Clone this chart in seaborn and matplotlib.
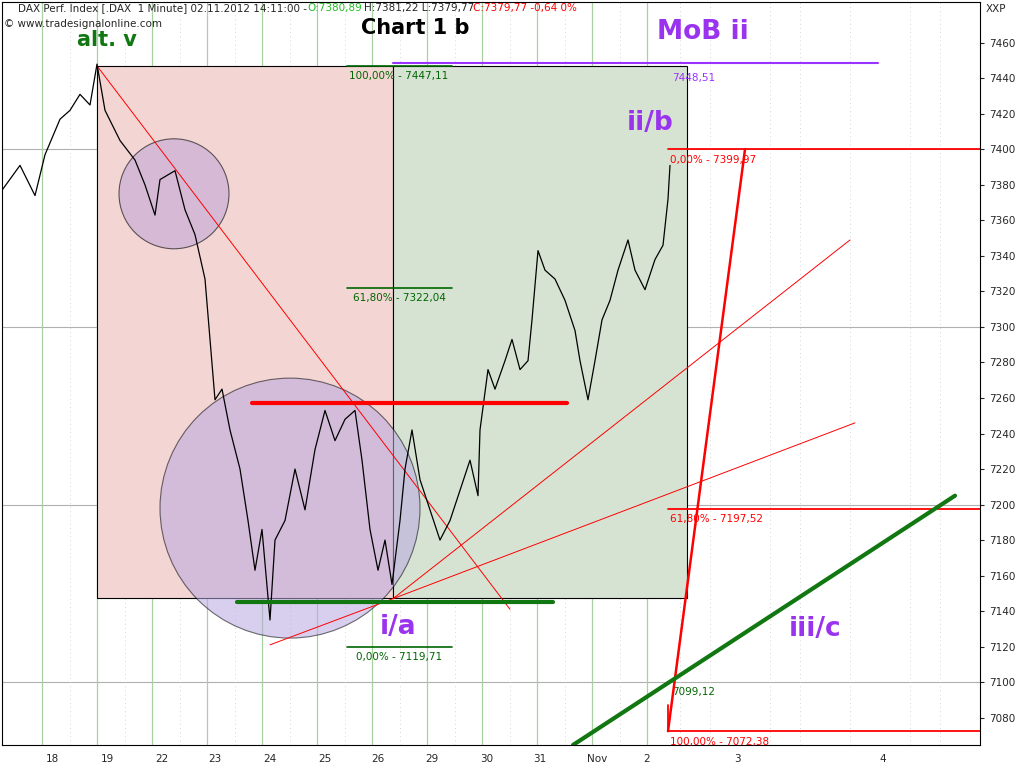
import matplotlib
matplotlib.use("Agg")
import matplotlib.pyplot as plt
from matplotlib.patches import Rectangle, Ellipse
import seaborn as sns

sns.set_style("white")
plt.rcParams["font.family"] = ["DejaVu Sans"]

# price path (x position on the time axis, index value)
px = [2, 20, 35, 45, 60, 70, 80, 90, 97, 105, 120, 135, 145, 155, 160, 175, 185, 195, 205,
      210, 215, 222, 230, 240, 248, 255, 262, 270, 275, 285, 295, 305, 315, 325, 335, 345,
      355, 362, 370, 378, 385, 392, 400, 405, 412, 420, 430, 440, 450, 460, 470, 478, 480,
      488, 495, 505, 512, 520, 528, 532, 538, 545, 555, 565, 575, 580, 588, 595, 602, 610,
      618, 628, 635, 645, 655, 663, 668, 670]
price = [7377, 7391, 7374, 7397, 7417, 7422, 7431, 7425, 7448, 7422, 7405, 7394, 7380, 7363,
         7383, 7388, 7366, 7352, 7327, 7293, 7259, 7265, 7242, 7220, 7191, 7163, 7186, 7135,
         7180, 7191, 7220, 7197, 7231, 7253, 7236, 7248, 7253, 7225, 7186, 7163, 7180, 7155,
         7191, 7220, 7242, 7214, 7197, 7180, 7191, 7208, 7225, 7205, 7242, 7276, 7265, 7281,
         7293, 7276, 7281, 7304, 7343, 7332, 7327, 7315, 7298, 7281, 7259, 7281, 7304, 7315,
         7332, 7349, 7332, 7321, 7338, 7346, 7372, 7391]

day_pos = [52, 107, 162, 215, 270, 325, 378, 432, 487, 540, 597, 647, 737, 883]
day_labels = ["18", "19", "22", "23", "24", "25", "26", "29", "30", "31", "Nov", "2", "3", "4"]
day_bounds = [42, 97, 152, 207, 262, 317, 372, 427, 482, 537, 592, 647]
intra = [70, 125, 180, 235, 290, 345, 400, 455, 510, 565, 620, 680, 710, 770, 800, 850, 910, 940]

fib_green = [7447.11, 7322.04, 7119.71]
fib_green_lbl = ["100,00% - 7447,11", "61,80% - 7322,04", "0,00% - 7119,71"]
fib_red = [7399.97, 7197.52, 7072.38]
fib_red_lbl = ["0,00% - 7399,97", "61,80% - 7197,52", "100,00% - 7072,38"]

fig = plt.figure(figsize=(10.24, 7.68), dpi=100)
ax = fig.add_axes([2 / 1024, 23 / 768, 978 / 1024, 743 / 768])
ax.set_xlim(2, 980)
ax.set_ylim(7064.6, 7483)


def fy(py):
    # pixel row -> figure fraction
    return 1 - py / 768


# grid
for v in [7100, 7200, 7300, 7400]:
    ax.axhline(v, color="#b0b0b0", lw=0.8, zorder=0)
for x in day_bounds:
    ax.axvline(x, color="#a8d0a0", lw=0.9, zorder=0)
for x in intra:
    ax.axvline(x, color="#c8c8c8", lw=0.6, ls=(0, (1, 4)), zorder=0)

# boxes
ax.add_patch(Rectangle((97, 7147.5), 296, 299.6, facecolor="#f3d6d3", edgecolor="black", lw=0.8, zorder=1))
ax.add_patch(Rectangle((393, 7147.5), 294, 299.6, facecolor="#d6e3d3", edgecolor="black", lw=0.8, zorder=1))

# circles
ax.add_patch(Ellipse((174, 7375), 110, 110 / 1.776, facecolor="#c4a8d8", alpha=0.6, edgecolor="black", lw=0.8, zorder=2))
ax.add_patch(Ellipse((290, 7198), 260, 260 / 1.776, facecolor="#b8a8e0", alpha=0.55, edgecolor="black", lw=0.8, zorder=2))

# price line
sns.lineplot(x=px, y=price, color="black", lw=0.9, ax=ax, zorder=4, sort=False)

# thin red trend lines
ax.plot([97, 510], [7447, 7141], color="red", lw=0.7, zorder=3)
ax.plot([270, 393], [7121, 7147], color="red", lw=0.7, zorder=3)
ax.plot([393, 850], [7147, 7349], color="red", lw=0.7, zorder=3)
ax.plot([393, 855], [7147, 7246], color="red", lw=0.7, zorder=3)

# thick levels
ax.plot([252, 567], [7257, 7257], color="red", lw=3, zorder=5)
ax.plot([237, 553], [7145, 7145], color="#117711", lw=3, zorder=5)

# green fib levels
for v, lbl in zip(fib_green, fib_green_lbl):
    ax.plot([347, 452], [v, v], color="#006600", lw=1.2, zorder=5)
    ax.text(399, v - 3, lbl, color="#006600", fontsize=7.5, ha="center", va="top", zorder=6)
ax.plot([393, 878], [7448.51, 7448.51], color="#9933ff", lw=1.5, zorder=5)
ax.text(672, 7443, "7448,51", color="#9933ff", fontsize=7.5, va="top")

# red fib levels
for v, lbl in zip(fib_red, fib_red_lbl):
    ax.plot([668, 980], [v, v], color="red", lw=1.3, zorder=5)
    ax.text(670, v - 3, lbl, color="red", fontsize=7.5, va="top", zorder=6)
ax.plot([668, 668], [7072.38, 7087], color="red", lw=1.3, zorder=5)
ax.plot([668, 745], [7072.38, 7399.97], color="red", lw=1.8, zorder=5)

# green trend line
ax.plot([573, 955], [7064.6, 7205], color="#117711", lw=3, zorder=5)
ax.text(672, 7097, "7099,12", color="#006600", fontsize=7.5, va="top")

# header texts
fig.text(18 / 1024, fy(3), "DAX Perf. Index [.DAX  1 Minute] 02.11.2012 14:11:00 -", fontsize=7.5, va="top")
fig.text(307 / 1024, fy(3), "O:7380,89", color="#22bb22", fontsize=7.5, va="top")
fig.text(364 / 1024, fy(3), "H:7381,22 L:7379,77", fontsize=7.5, va="top")
fig.text(473 / 1024, fy(3), "C:7379,77 -0,64 0%", color="red", fontsize=7.5, va="top")
fig.text(4 / 1024, fy(19), "© www.tradesignalonline.com", fontsize=7.5, va="top")

# annotations
fig.text(107 / 1024, fy(40), "alt. v", color="#117711", fontsize=15, fontweight="bold", ha="center", va="center")
fig.text(415 / 1024, fy(28), "Chart 1 b", color="black", fontsize=15, fontweight="bold", ha="center", va="center")
fig.text(703 / 1024, fy(32), "MoB ii", color="#9933ee", fontsize=19, fontweight="bold", ha="center", va="center")
ax.text(650, 7415, "ii/b", color="#9933ee", fontsize=19, fontweight="bold", ha="center", va="center")
ax.text(398, 7131, "i/a", color="#9933ee", fontsize=19, fontweight="bold", ha="center", va="center")
ax.text(815, 7130, "iii/c", color="#9933ee", fontsize=19, fontweight="bold", ha="center", va="center")

# axes
ax.yaxis.tick_right()
ax.set_yticks(range(7080, 7461, 20))
ax.set_yticklabels([str(v) for v in range(7080, 7461, 20)], fontsize=7.5)
ax.set_xticks(day_pos)
ax.set_xticklabels(day_labels, fontsize=7.5)
ax.tick_params(axis="both", length=3)
fig.text(1 - 38 / 1024, fy(4), "XXP", fontsize=7.5, va="top")
for s in ax.spines.values():
    s.set_color("black")
    s.set_linewidth(0.8)

fig.savefig("out.png", dpi=100)
